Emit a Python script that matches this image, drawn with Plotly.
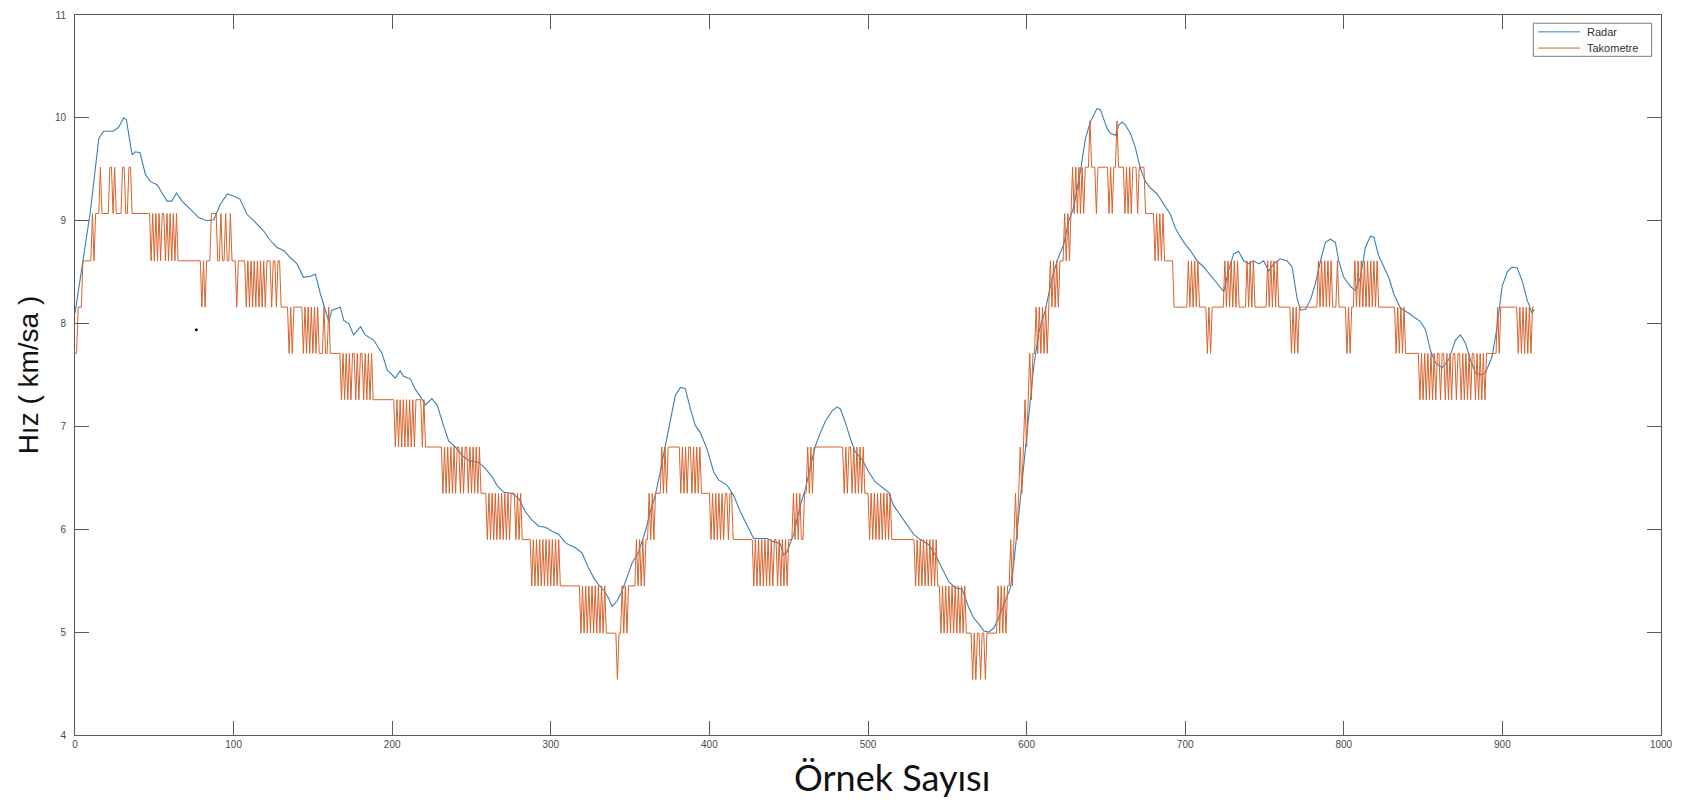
import plotly.graph_objects as go

# ---------------- data ----------------
RADAR_X = [0, 2, 5.5, 9.7, 15, 18, 24, 27.6, 30.7, 32.4, 36, 38, 41, 44.4, 47.5, 51.8, 58, 61, 64, 67.5,
           72.8, 78, 83, 87.5, 91.7, 96, 100, 104, 108.5, 112.7, 119, 123, 127.4, 131.6, 135.8, 140, 144,
           148.4, 151.6, 154.7, 160, 162, 167.3, 169.4, 172.6, 175.7, 180, 183, 188.3, 193.6, 196.8, 202,
           205, 207, 211.5, 214.6, 217.8, 221, 225, 228.3, 232.5, 235.6, 239.8, 244, 248.2, 254.5, 258.8,
           263, 266, 270.3, 275.6, 279.8, 284, 288.2, 292.4, 296.6, 300.8, 305, 309.2, 311.3, 315.5, 319.7,
           323.9, 327, 330.2, 333.3, 336.5, 338.6, 341.7, 344.9, 348, 351.2, 355.4, 359.6, 362.7, 365.9,
           369, 372.2, 375.4, 378.5, 381.7, 384.8, 388, 391.1, 394.3, 398.5, 402.7, 405.8, 411, 415.3,
           419.5, 423.7, 427.9, 432.1, 436.3, 440.5, 444.7, 446.8, 448.9, 453.1, 457.3, 460.5, 463.7,
           466.8, 470, 473.1, 477.3, 480.5, 482.6, 485.7, 488.9, 492, 496.2, 500.4, 504.6, 508.8, 513,
           516.2, 520.4, 524.6, 528.8, 533, 538.3, 542.5, 546.7, 550.9, 555.1, 559.3, 563.5, 566.6, 569.8,
           573, 576.1, 579.3, 582.4, 586.6, 589.8, 591.9, 595, 598.2, 601.3, 604.5, 607.6, 611.8, 615.5,
           619.2, 623.4, 626.6, 629.7, 633.9, 637.1, 640.2, 644.4, 646.5, 648.6, 650.7, 652.8, 656, 658.1,
           660.2, 662.3, 665.4, 668.6, 671.7, 674.9, 678, 682.3, 686.5, 690.7, 693.8, 697, 700.1, 703.3,
           707.5, 711.7, 715.9, 720.1, 724.3, 727.4, 730.6, 733.7, 736.9, 740, 743.2, 746.4, 749.5, 752.7,
           755.8, 760, 764.2, 767.4, 770.5, 772.7, 775.8, 779, 782.1, 785.3, 788.4, 791.6, 794.7, 796.8,
           800, 804.2, 807.3, 810.5, 813.6, 816.8, 818.9, 822, 825.2, 828.3, 831.5, 835.7, 841, 845.2,
           848.3, 851.5, 854.6, 857.8, 862, 866.2, 870.4, 873.5, 876.7, 879.8, 883, 886.1, 889.3, 893.5,
           896.7, 899.8, 903, 906.1, 909.3, 912.4, 915.6, 918.7, 920]
RADAR_Y = [8.10, 8.30, 8.64, 9.09, 9.80, 9.87, 9.87, 9.91, 10.00, 9.98, 9.64, 9.67, 9.66, 9.45, 9.38, 9.35,
           9.19, 9.19, 9.27, 9.19, 9.11, 9.03, 9.00, 9.01, 9.16, 9.26, 9.24, 9.21, 9.06, 9.00, 8.90, 8.81,
           8.74, 8.71, 8.64, 8.58, 8.45, 8.46, 8.48, 8.29, 8.02, 8.13, 8.16, 8.03, 8.00, 7.89, 7.97, 7.89,
           7.84, 7.71, 7.55, 7.47, 7.54, 7.49, 7.46, 7.36, 7.29, 7.21, 7.27, 7.21, 7.00, 6.86, 6.80, 6.72,
           6.67, 6.65, 6.59, 6.51, 6.43, 6.36, 6.35, 6.30, 6.17, 6.09, 6.03, 6.02, 5.98, 5.95, 5.87, 5.85,
           5.82, 5.77, 5.62, 5.53, 5.46, 5.41, 5.33, 5.25, 5.30, 5.40, 5.53, 5.67, 5.78, 5.98, 6.17, 6.33,
           6.56, 6.81, 7.07, 7.30, 7.38, 7.37, 7.17, 7.01, 6.94, 6.78, 6.56, 6.48, 6.43, 6.33, 6.17, 6.04,
           5.91, 5.91, 5.91, 5.88, 5.86, 5.75, 5.78, 5.95, 6.23, 6.39, 6.59, 6.81, 6.94, 7.05, 7.15, 7.19,
           7.17, 7.04, 6.88, 6.75, 6.68, 6.56, 6.46, 6.41, 6.36, 6.23, 6.14, 6.04, 5.95, 5.90, 5.85, 5.75,
           5.62, 5.49, 5.43, 5.42, 5.24, 5.14, 5.08, 5.01, 5.00, 5.04, 5.14, 5.30, 5.43, 5.66, 6.14, 6.59,
           7.10, 7.58, 7.91, 8.13, 8.40, 8.61, 8.77, 9.00, 9.13, 9.48, 9.80, 9.96, 10.09, 10.08, 9.99, 9.90,
           9.85, 9.83, 9.93, 9.96, 9.93, 9.85, 9.71, 9.51, 9.38, 9.32, 9.26, 9.16, 9.06, 8.93, 8.84, 8.77,
           8.71, 8.61, 8.55, 8.47, 8.39, 8.31, 8.52, 8.68, 8.70, 8.61, 8.58, 8.61, 8.58, 8.61, 8.51, 8.58,
           8.63, 8.61, 8.55, 8.25, 8.13, 8.14, 8.23, 8.39, 8.61, 8.79, 8.82, 8.79, 8.61, 8.45, 8.36, 8.32,
           8.45, 8.74, 8.85, 8.84, 8.66, 8.56, 8.45, 8.29, 8.15, 8.10, 8.05, 8.02, 7.94, 7.74, 7.62, 7.57,
           7.65, 7.84, 7.89, 7.81, 7.65, 7.52, 7.50, 7.52, 7.68, 7.97, 8.36, 8.50, 8.55, 8.54, 8.42, 8.23,
           8.10, 8.14]

# quantisation levels of the tachometer (km/sa)
TACHO_LEVELS = [4.54, 4.99, 5.45, 5.90, 6.35, 6.80, 7.26, 7.71, 8.16, 8.61, 9.07, 9.52, 9.97]
TACHO_LAST_SAMPLE = 920
# (first sample, level index) of each flat run
TACHO_BASE = [(0, 7), (2, 8), (5, 9), (13, 10), (66, 9), (86, 10), (90, 9), (131, 8), (155, 7), (189, 6),
              (222, 5), (256, 4), (283, 3), (306, 2), (336, 1), (349, 2), (360, 3), (366, 4), (374, 5),
              (395, 4), (416, 3), (460, 4), (466, 5), (499, 4), (516, 3), (545, 2), (563, 1), (588, 2),
              (590, 3), (593, 4), (596, 5), (599, 6), (602, 7), (606, 8), (622, 9), (628, 10), (637, 11),
              (675, 10), (688, 9), (693, 8), (840, 7), (900, 8)]
# single-sample jumps: (level index, samples)
TACHO_SPIKES = [
    (10, [11]),
    (11, [16, 22, 23, 25, 30, 31, 34, 35]),
    (9, [48, 50, 52, 54, 57, 59, 61, 63, 65]),
    (8, [80, 82]),
    (10, [92, 95, 98]),
    (8, [102, 108, 110, 112, 114, 116, 118, 120, 124, 127, 130]),
    (7, [135, 137, 144, 146, 148, 150, 152, 154]),
    (8, [157, 160]),
    (6, [168, 170, 172, 174, 177, 179, 182, 184, 186, 188]),
    (5, [202, 204, 206, 208, 210, 212, 214, 219, 221]),
    (4, [232, 234, 236, 238, 240, 243, 245, 248, 250, 252, 254]),
    (3, [260, 262, 264, 266, 268, 270, 272, 274, 278, 280, 282]),
    (2, [288, 290, 292, 294, 296, 298, 300, 302, 304]),
    (1, [319, 321, 323, 325, 327, 329, 331, 333, 335]),
    (0, [342]),
    (2, [345, 347]),
    (3, [354, 356, 358]),
    (4, [362, 364]),
    (5, [370, 372]),
    (4, [382, 384, 386, 389, 391, 393]),
    (3, [401, 403, 405, 407, 409, 412, 415]),
    (2, [428, 430, 432, 434, 436, 438, 440, 443, 445, 447, 449]),
    (4, [453, 455, 457]),
    (5, [462, 464]),
    (4, [485, 487, 490, 492, 494, 496, 498]),
    (3, [501, 503, 505, 507, 509, 511, 513, 515]),
    (2, [530, 532, 534, 536, 538, 540, 542, 544]),
    (1, [546, 548, 550, 552, 554, 556, 558, 560, 562]),
    (0, [566, 568, 571, 574]),
    (2, [582, 584, 586]),
    (2, [591]), (3, [594]), (4, [597]), (5, [600]), (6, [603]),
    (7, [607, 609, 611, 613]),
    (9, [615, 617, 619, 621]),
    (10, [624, 626]),
    (11, [629, 631, 633, 635]),
    (12, [640, 657]),
    (10, [644, 652, 654, 662, 664, 666, 670]),
    (9, [681, 683, 685, 687]),
    (9, [702, 704, 706, 708]),
    (7, [714, 716]),
    (9, [725, 727, 729, 731, 733, 739, 741, 743, 752, 754, 756, 758]),
    (7, [767, 769, 771]),
    (9, [784, 786, 788, 790, 792, 796]),
    (7, [802, 804]),
    (9, [807, 809, 811, 813, 815, 817, 819, 821]),
    (7, [833, 835, 837, 839]),
    (6, [848, 850, 852, 854, 856, 858, 861, 864, 866, 868, 871, 874, 876, 878, 880, 883, 885, 887, 889]),
    (8, [897, 899]),
    (7, [910, 912, 914, 916, 918]),
]

STRAY_DOT_X = [76.5]
STRAY_DOT_Y = [7.94]

X_TICKS = [0, 100, 200, 300, 400, 500, 600, 700, 800, 900, 1000]
Y_TICKS = [4, 5, 6, 7, 8, 9, 10, 11]

SERIES_NAMES = ["Radar", "Takometre"]
SERIES_COLORS = ["#3a7fb3", "#d9622b"]

# ---------------- decode tachometer runs ----------------
tacho_x = list(range(TACHO_LAST_SAMPLE + 1))
tacho_k = []
run = 0
for i in tacho_x:
    while run + 1 < len(TACHO_BASE) and TACHO_BASE[run + 1][0] <= i:
        run += 1
    tacho_k.append(TACHO_BASE[run][1])
for lvl, idxs in TACHO_SPIKES:
    for i in idxs:
        tacho_k[i] = lvl
tacho_y = [TACHO_LEVELS[k] for k in tacho_k]

# ---------------- figure ----------------
fig = go.Figure()
fig.add_trace(go.Scatter(x=RADAR_X, y=RADAR_Y, mode="lines", name=SERIES_NAMES[0],
                         line=dict(color=SERIES_COLORS[0], width=1.1)))
fig.add_trace(go.Scatter(x=tacho_x, y=tacho_y, mode="lines", name=SERIES_NAMES[1],
                         line=dict(color=SERIES_COLORS[1], width=1)))
fig.add_trace(go.Scatter(x=STRAY_DOT_X, y=STRAY_DOT_Y, mode="markers", showlegend=False,
                         marker=dict(color="#111", size=3), hoverinfo="skip"))

axis_common = dict(showgrid=False, zeroline=False, showline=True, linecolor="#5a5a5a", linewidth=1,
                   mirror="allticks", ticks="inside", ticklen=14, tickcolor="#5a5a5a", tickwidth=1,
                   tickfont=dict(family="Liberation Sans, Arial", size=10, color="#4a4a4a"))

# MATLAB-style compact legend box (top right)
legend_shapes = [dict(type="rect", xref="paper", yref="paper", x0=0.9195, x1=0.9941, y0=0.9426, y1=0.9886,
                      line=dict(color="#7a7a7a", width=1), fillcolor="white", layer="above")]
legend_texts = []
for name, color, yy in zip(SERIES_NAMES, SERIES_COLORS, [0.9766, 0.9541]):
    legend_shapes.append(dict(type="line", xref="paper", yref="paper", x0=0.9225, x1=0.9489, y0=yy, y1=yy,
                              line=dict(color=color, width=1), layer="above"))
    legend_texts.append(dict(text=name, xref="paper", yref="paper", x=0.9521, y=yy, xanchor="left",
                             yanchor="middle", showarrow=False,
                             font=dict(family="Liberation Sans, Arial", size=11, color="#333")))

fig.update_layout(
    width=1695, height=803,
    margin=dict(l=75, r=34, t=9, b=68),
    paper_bgcolor="white", plot_bgcolor="white",
    xaxis=dict(range=[0, 1000], tickvals=X_TICKS, ticktext=[str(v) for v in X_TICKS], **axis_common),
    yaxis=dict(range=[4, 11], tickvals=Y_TICKS, ticktext=[str(v) for v in Y_TICKS],
               ticklabelstandoff=6, **axis_common),
    showlegend=False,
    shapes=legend_shapes,
    annotations=legend_texts + [
        dict(text="Hız ( km/sa )", xref="paper", yref="paper", x=-0.0294, y=0.5,
             xanchor="center", yanchor="middle", textangle=-90, showarrow=False,
             font=dict(family="Liberation Sans, Arial", size=28, color="#111")),
        dict(text="Örnek Sayısı", xref="paper", yref="paper", x=0.515, y=-0.059,
             xanchor="center", yanchor="middle", showarrow=False,
             font=dict(family="Lato, Noto Sans", size=36, color="#111")),
    ],
)

fig.write_html("out.html")
